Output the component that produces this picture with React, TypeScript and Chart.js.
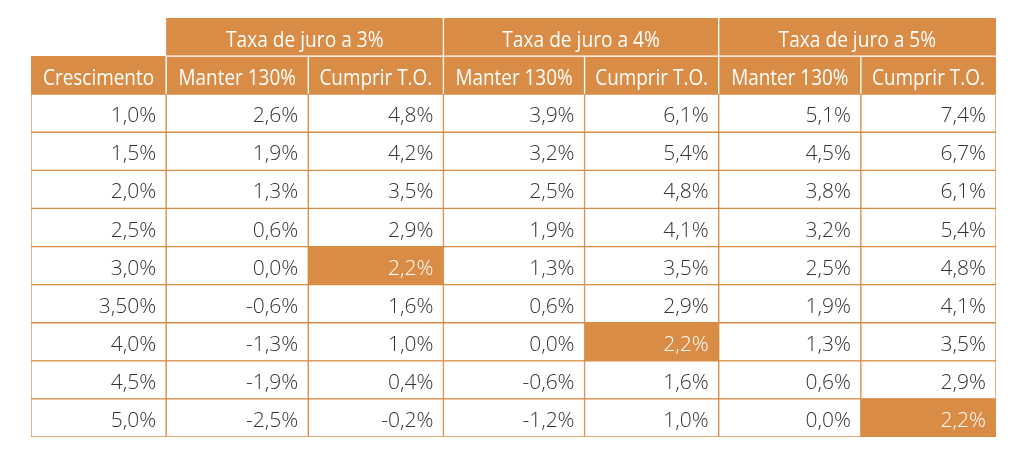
import React, { useEffect, useRef } from "react";
import { Chart, registerables } from "chart.js";

Chart.register(...registerables);

// ---- data ----
const crescimento = ["1,0%", "1,5%", "2,0%", "2,5%", "3,0%", "3,50%", "4,0%", "4,5%", "5,0%"];
const groupLabels = ["Taxa de juro a 3%", "Taxa de juro a 4%", "Taxa de juro a 5%"];
const columnLabels = ["Crescimento", "Manter 130%", "Cumprir T.O.", "Manter 130%", "Cumprir T.O.", "Manter 130%", "Cumprir T.O."];
const manter3 = [2.6, 1.9, 1.3, 0.6, 0.0, -0.6, -1.3, -1.9, -2.5];
const cumprir3 = [4.8, 4.2, 3.5, 2.9, 2.2, 1.6, 1.0, 0.4, -0.2];
const manter4 = [3.9, 3.2, 2.5, 1.9, 1.3, 0.6, 0.0, -0.6, -1.2];
const cumprir4 = [6.1, 5.4, 4.8, 4.1, 3.5, 2.9, 2.2, 1.6, 1.0];
const manter5 = [5.1, 4.5, 3.8, 3.2, 2.5, 1.9, 1.3, 0.6, 0.0];
const cumprir5 = [7.4, 6.7, 6.1, 5.4, 4.8, 4.1, 3.5, 2.9, 2.2];
// highlighted cells: [data row, column]
const highlighted = [[4, 2], [6, 4], [8, 6]];

// ---- layout / style ----
const colEdges = [0, 135, 277, 412, 553, 687, 829, 964];
const ORANGE = "#D98C46";
const TEXT = "#333333";
const FONT = "'Open Sans', sans-serif";

const valueColumns = [manter3, cumprir3, manter4, cumprir4, manter5, cumprir5];
const rowKeys = ["g", "h", ...crescimento];

const fmt = (v: number) => v.toFixed(1).replace(".", ",") + "%";
const isHigh = (r: number, c: number) => highlighted.some(([hr, hc]) => hr === r && hc === c);

function cellText(row: number, col: number): string {
  if (col === 0) return crescimento[row];
  return fmt(valueColumns[col - 1][row]);
}

const textPlugin = {
  id: "tableText",
  afterDatasetsDraw(chart: any) {
    const ctx = chart.ctx;
    const xs = chart.scales.x;
    const ys = chart.scales.y;
    const squeeze = (t: string, x: number, y: number, f: number) =>
      ctx.fillText(t, x, y, ctx.measureText(t).width * f);
    ctx.save();
    ctx.textBaseline = "alphabetic";
    // headers
    ctx.fillStyle = "#ffffff";
    ctx.font = `500 22px ${FONT}`;
    ctx.textAlign = "center";
    groupLabels.forEach((g, i) => {
      const c = 1 + i * 2;
      const x = (xs.getPixelForValue(colEdges[c]) + xs.getPixelForValue(colEdges[c + 2])) / 2;
      squeeze(g, x, ys.getPixelForValue(0) + 9.5, 0.87);
    });
    columnLabels.forEach((l, c) => {
      const x = (xs.getPixelForValue(colEdges[c]) + xs.getPixelForValue(colEdges[c + 1])) / 2;
      squeeze(l, x, ys.getPixelForValue(1) + 9.5, 0.86);
    });
    // data
    ctx.textAlign = "right";
    ctx.font = `300 21px ${FONT}`;
    crescimento.forEach((_, r) => {
      for (let c = 0; c < 7; c++) {
        ctx.fillStyle = isHigh(r, c) ? "#ffffff" : TEXT;
        const x = xs.getPixelForValue(colEdges[c + 1]) - 10;
        ctx.fillText(cellText(r, c), x, ys.getPixelForValue(r + 2) + 9);
      }
    });
    ctx.restore();
  },
};

export default function App() {
  const ref = useRef<HTMLCanvasElement>(null);
  useEffect(() => {
    if (!ref.current) return;
    const datasets = columnLabels.map((_, c) => ({
      label: columnLabels[c],
      data: rowKeys.map((_, r) => {
        if (r === 0) return c % 2 === 1 ? [colEdges[c], colEdges[c + 2]] : null;
        return [colEdges[c], colEdges[c + 1]];
      }),
      backgroundColor: (ctx: any) => {
        const r = ctx.dataIndex;
        if (r < 2) return ORANGE;
        return isHigh(r - 2, c) ? ORANGE : "#ffffff";
      },
      borderColor: (ctx: any) => (ctx.dataIndex < 2 ? "#ffffff" : ORANGE),
      borderWidth: (ctx: any) => {
        const r = ctx.dataIndex;
        if (r === 0) return { top: 0, bottom: 1, left: c === 1 ? 0 : 1, right: c === 5 ? 0 : 1 };
        if (r === 1) return { top: c === 0 ? 0 : 1, bottom: 0, left: c === 0 ? 0 : 1, right: c === 6 ? 0 : 1 };
        return 1;
      },
      borderSkipped: false,
      grouped: false,
      barPercentage: 1,
      categoryPercentage: 1,
    }));
    const chart = new Chart(ref.current, {
      type: "bar",
      data: { labels: rowKeys, datasets },
      options: {
        indexAxis: "y",
        animation: false,
        responsive: true,
        maintainAspectRatio: false,
        layout: { padding: { left: 23, right: 20, top: 10, bottom: 6 } },
        plugins: { legend: { display: false }, tooltip: { enabled: false }, title: { display: false } },
        scales: {
          x: { type: "linear", min: colEdges[0], max: colEdges[colEdges.length - 1], display: false },
          y: { type: "category", display: false, grid: { display: false } },
        },
      } as any,
      plugins: [textPlugin],
    });
    return () => chart.destroy();
  }, []);
  return (
    <div style={{ width: 1008, height: 435, position: "relative" }}>
      <canvas ref={ref} />
    </div>
  );
}
